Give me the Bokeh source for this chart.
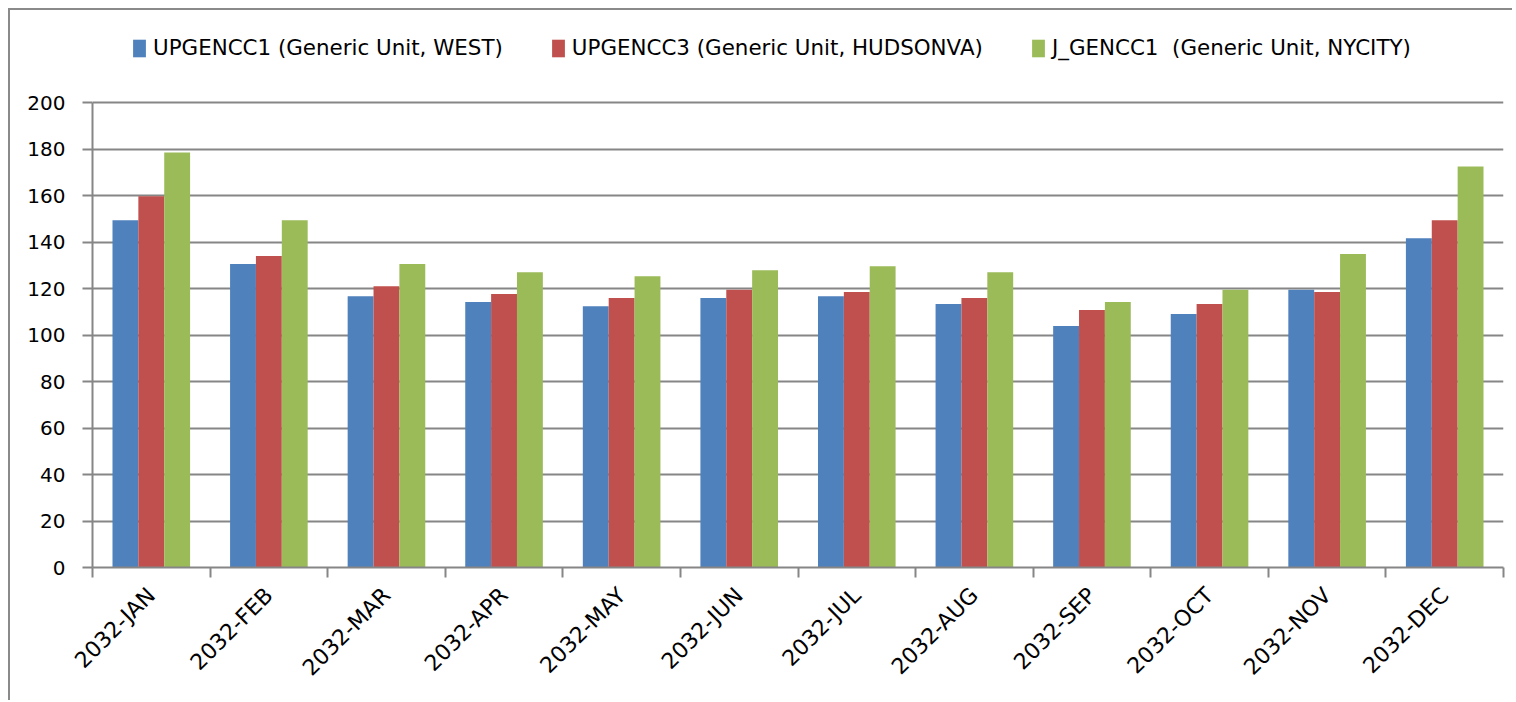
from bokeh.plotting import figure
from bokeh.models import ColumnDataSource, FixedTicker, Legend, LegendItem, Range1d
from bokeh.transform import dodge
from bokeh.embed import file_html
from bokeh.resources import INLINE
import math

months = ["2032-JAN", "2032-FEB", "2032-MAR", "2032-APR", "2032-MAY", "2032-JUN",
          "2032-JUL", "2032-AUG", "2032-SEP", "2032-OCT", "2032-NOV", "2032-DEC"]
west = [149.4, 130.5, 116.7, 114.2, 112.4, 115.9, 116.7, 113.3, 103.9, 109.0, 119.5, 141.6]
hudson = [159.7, 134.0, 121.0, 117.6, 115.9, 119.5, 118.5, 115.9, 110.7, 113.3, 118.5, 149.4]
nycity = [178.5, 149.4, 130.5, 127.0, 125.3, 127.9, 129.6, 127.0, 114.2, 119.5, 134.8, 172.5]
series_names = ["UPGENCC1 (Generic Unit, WEST)",
                "UPGENCC3 (Generic Unit, HUDSONVA)",
                "J_GENCC1  (Generic Unit, NYCITY)"]
colors = ["#4F81BD", "#C0504D", "#9BBB59"]
y_ticks = list(range(0, 201, 20))

FONT = "DejaVu Sans"
GRID = "#868686"

# layout (pixels): frame spans page y 20..567, value 200 sits at y=102
frame_top, top200, frame_bottom = 20, 102, 567
y_max = 200 * (frame_bottom - frame_top) / (frame_bottom - top200)

centers = [i + 0.5 for i in range(len(months))]
src = ColumnDataSource(dict(x=centers, west=west, hudson=hudson, nycity=nycity))

p = figure(width=1504, height=692, output_backend="svg", toolbar_location=None,
           x_range=Range1d(0, len(months)), y_range=Range1d(0, y_max),
           min_border_left=82, min_border_right=11, min_border_top=10, min_border_bottom=135)
p.styles = {"border-left": "2px solid #8a8a8a", "border-top": "2px solid #8a8a8a",
            "margin-left": "8px", "margin-top": "8px"}
p.outline_line_color = None
p.background_fill_color = "white"
p.border_fill_color = "white"

bw = 0.22
renderers = []
for col, off, c in zip(["west", "hudson", "nycity"], [-bw, 0.0, bw], colors):
    r = p.vbar(x=dodge("x", off, range=p.x_range), top=col, bottom=0, width=bw,
               source=src, fill_color=c, line_color=None)
    renderers.append(r)

# axes
p.xgrid.grid_line_color = None
p.ygrid.grid_line_color = GRID
p.ygrid.grid_line_width = 2
p.yaxis.ticker = FixedTicker(ticks=y_ticks)
p.yaxis.bounds = (0, 200)
p.yaxis.axis_line_color = GRID
p.yaxis.axis_line_width = 2
p.yaxis.major_tick_line_color = GRID
p.yaxis.major_tick_line_width = 2
p.yaxis.major_tick_out = 10
p.yaxis.major_tick_in = 0
p.yaxis.minor_tick_line_color = None
p.yaxis.major_label_text_font = FONT
p.yaxis.major_label_text_font_size = "20px"
p.yaxis.major_label_text_color = "black"
p.yaxis.major_label_standoff = 17

p.xaxis.ticker = FixedTicker(ticks=centers, minor_ticks=list(range(len(months) + 1)))
p.xaxis.major_label_overrides = {c: m for c, m in zip(centers, months)}
p.xaxis.axis_line_color = GRID
p.xaxis.axis_line_width = 2
p.xaxis.major_tick_line_color = None
p.xaxis.major_tick_out = 10
p.xaxis.minor_tick_line_color = GRID
p.xaxis.minor_tick_line_width = 2
p.xaxis.minor_tick_out = 10
p.xaxis.minor_tick_in = 0
p.xaxis.major_label_orientation = math.pi / 4
p.xaxis.major_label_text_font = FONT
p.xaxis.major_label_text_font_size = "22px"
p.xaxis.major_label_text_color = "black"
p.xaxis.major_label_standoff = 14

legend = Legend(items=[LegendItem(label=n, renderers=[r]) for n, r in zip(series_names, renderers)],
                orientation="horizontal", location=(39, frame_bottom - 60),
                glyph_width=16, glyph_height=22, label_standoff=6, spacing=47,
                padding=0, margin=0, border_line_color=None, background_fill_alpha=0,
                label_text_font=FONT, label_text_font_size="21.4px", label_text_color="black")
p.add_layout(legend, "center")

open("out.html", "w").write(file_html(p, INLINE))
